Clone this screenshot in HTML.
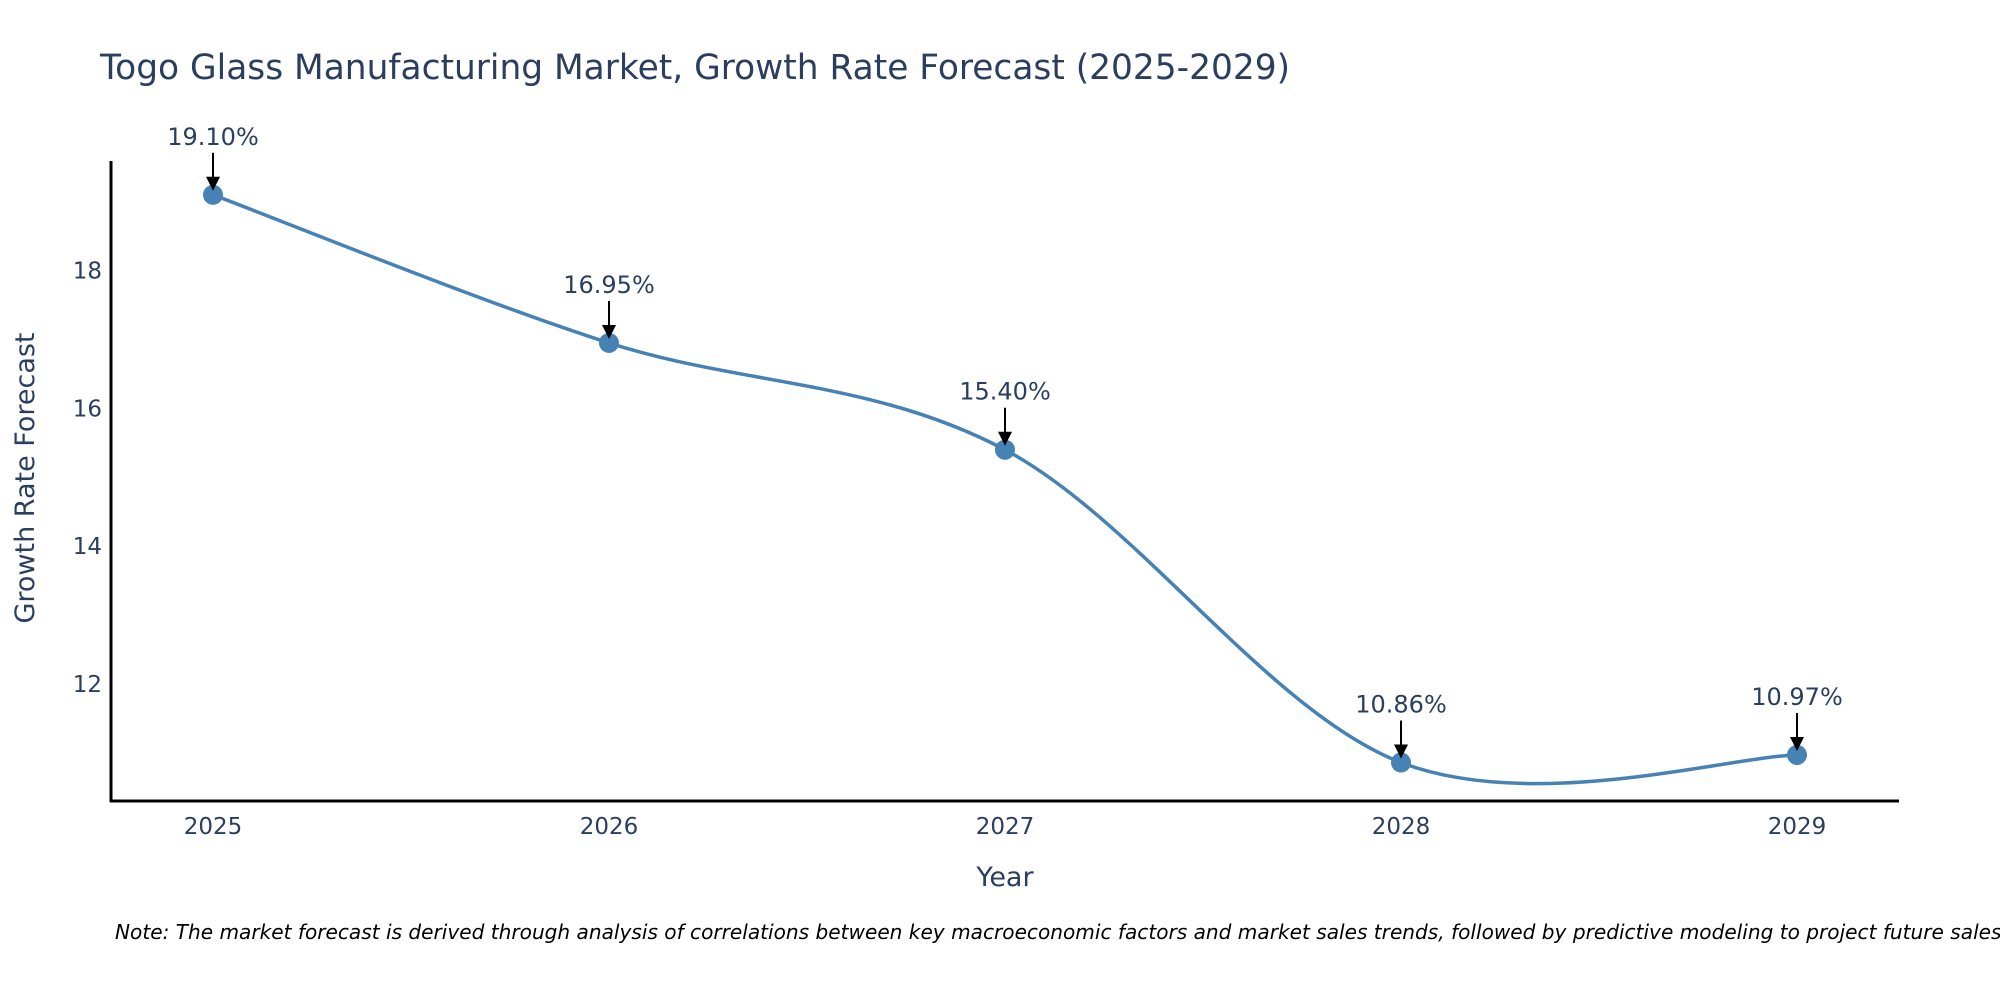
<!DOCTYPE html>
<html><head><meta charset="utf-8"><style>
body{margin:0;background:#fff;}
svg text{font-family:"DejaVu Sans","Liberation Sans",sans-serif;}
</style></head><body>
<svg id="chart" width="2000" height="1000" viewBox="0 0 2000 1000" xmlns="http://www.w3.org/2000/svg">
<text x="100" y="79" font-size="34.4" fill="#2a3f5f">Togo Glass Manufacturing Market, Growth Rate Forecast (2025-2029)</text>
<g id="yticks"></g>
<g id="xticks"></g>
<line x1="111" y1="161" x2="111" y2="802" stroke="#000" stroke-width="3"/>
<line x1="110" y1="801" x2="1899" y2="801" stroke="#000" stroke-width="3"/>
<path id="line" fill="none" stroke="#4682b4" stroke-width="3.5"/>
<g id="marks"></g>
<text transform="translate(34,478) rotate(-90)" text-anchor="middle" font-size="27" fill="#2a3f5f">Growth Rate Forecast</text>
<text x="1005" y="886" text-anchor="middle" font-size="27" fill="#2a3f5f">Year</text>
<text x="115" y="939" font-size="20.1" font-style="italic" fill="#000">Note: The market forecast is derived through analysis of correlations between key macroeconomic factors and market sales trends, followed by predictive modeling to project future sales</text>
</svg>
<script>
const years = ["2025","2026","2027","2028","2029"];
const values = [19.10, 16.95, 15.40, 10.86, 10.97];
const labels = ["19.10%","16.95%","15.40%","10.86%","10.97%"];
const yTicks = [12, 14, 16, 18];
const NS = "http://www.w3.org/2000/svg";
function xs(i){ return 213 + i * 396; }
function ys(v){ return 684 - (v - 12) * 68.9; }
function mk(tag, attrs, parent, text){
  const e = document.createElementNS(NS, tag);
  for (const k in attrs) e.setAttribute(k, attrs[k]);
  if (text !== undefined) e.textContent = text;
  parent.appendChild(e); return e;
}
const yg = document.getElementById('yticks');
yTicks.forEach(t => {
  const e = mk('text', {x: 102, y: ys(t) + 8, 'text-anchor': 'end', 'font-size': 23, fill: '#2a3f5f'}, yg, String(t));
  
  
});
const xg = document.getElementById('xticks');
years.forEach((y, i) => {
  const e = mk('text', {x: xs(i), y: 834, 'text-anchor': 'middle', 'font-size': 23, fill: '#2a3f5f'}, xg, y);
  
  
});
const pts = values.map((v, i) => [xs(i), ys(v)]);
let d = 'M' + pts[0][0] + ',' + pts[0][1];
const sm = 1/6;
for (let i = 0; i < pts.length - 1; i++) {
  const p0 = pts[Math.max(i - 1, 0)], p1 = pts[i], p2 = pts[i + 1], p3 = pts[Math.min(i + 2, pts.length - 1)];
  const c1 = [p1[0] + (p2[0] - p0[0]) * sm, p1[1] + (p2[1] - p0[1]) * sm];
  const c2 = [p2[0] - (p3[0] - p1[0]) * sm, p2[1] - (p3[1] - p1[1]) * sm];
  d += ' C' + c1 + ' ' + c2 + ' ' + p2;
}
document.getElementById('line').setAttribute('d', d);
const mg = document.getElementById('marks');
pts.forEach((p, i) => {
  const c = mk('circle', {cx: p[0], cy: p[1], r: 10, fill: '#4682b4'}, mg);
  
  
  const l = mk('line', {x1: p[0], y1: p[1] - 42, x2: p[0], y2: p[1] - 14, stroke: '#000', 'stroke-width': 2}, mg);
  
  
  const h = mk('path', {d: `M${p[0]-7},${p[1]-18} L${p[0]+7},${p[1]-18} L${p[0]},${p[1]-4} Z`, fill: '#000'}, mg);
  
  
  const t = mk('text', {x: p[0], y: p[1] - 50, 'text-anchor': 'middle', 'font-size': 24, fill: '#2a3f5f'}, mg, labels[i]);
  
  
});
</script>
</body></html>
